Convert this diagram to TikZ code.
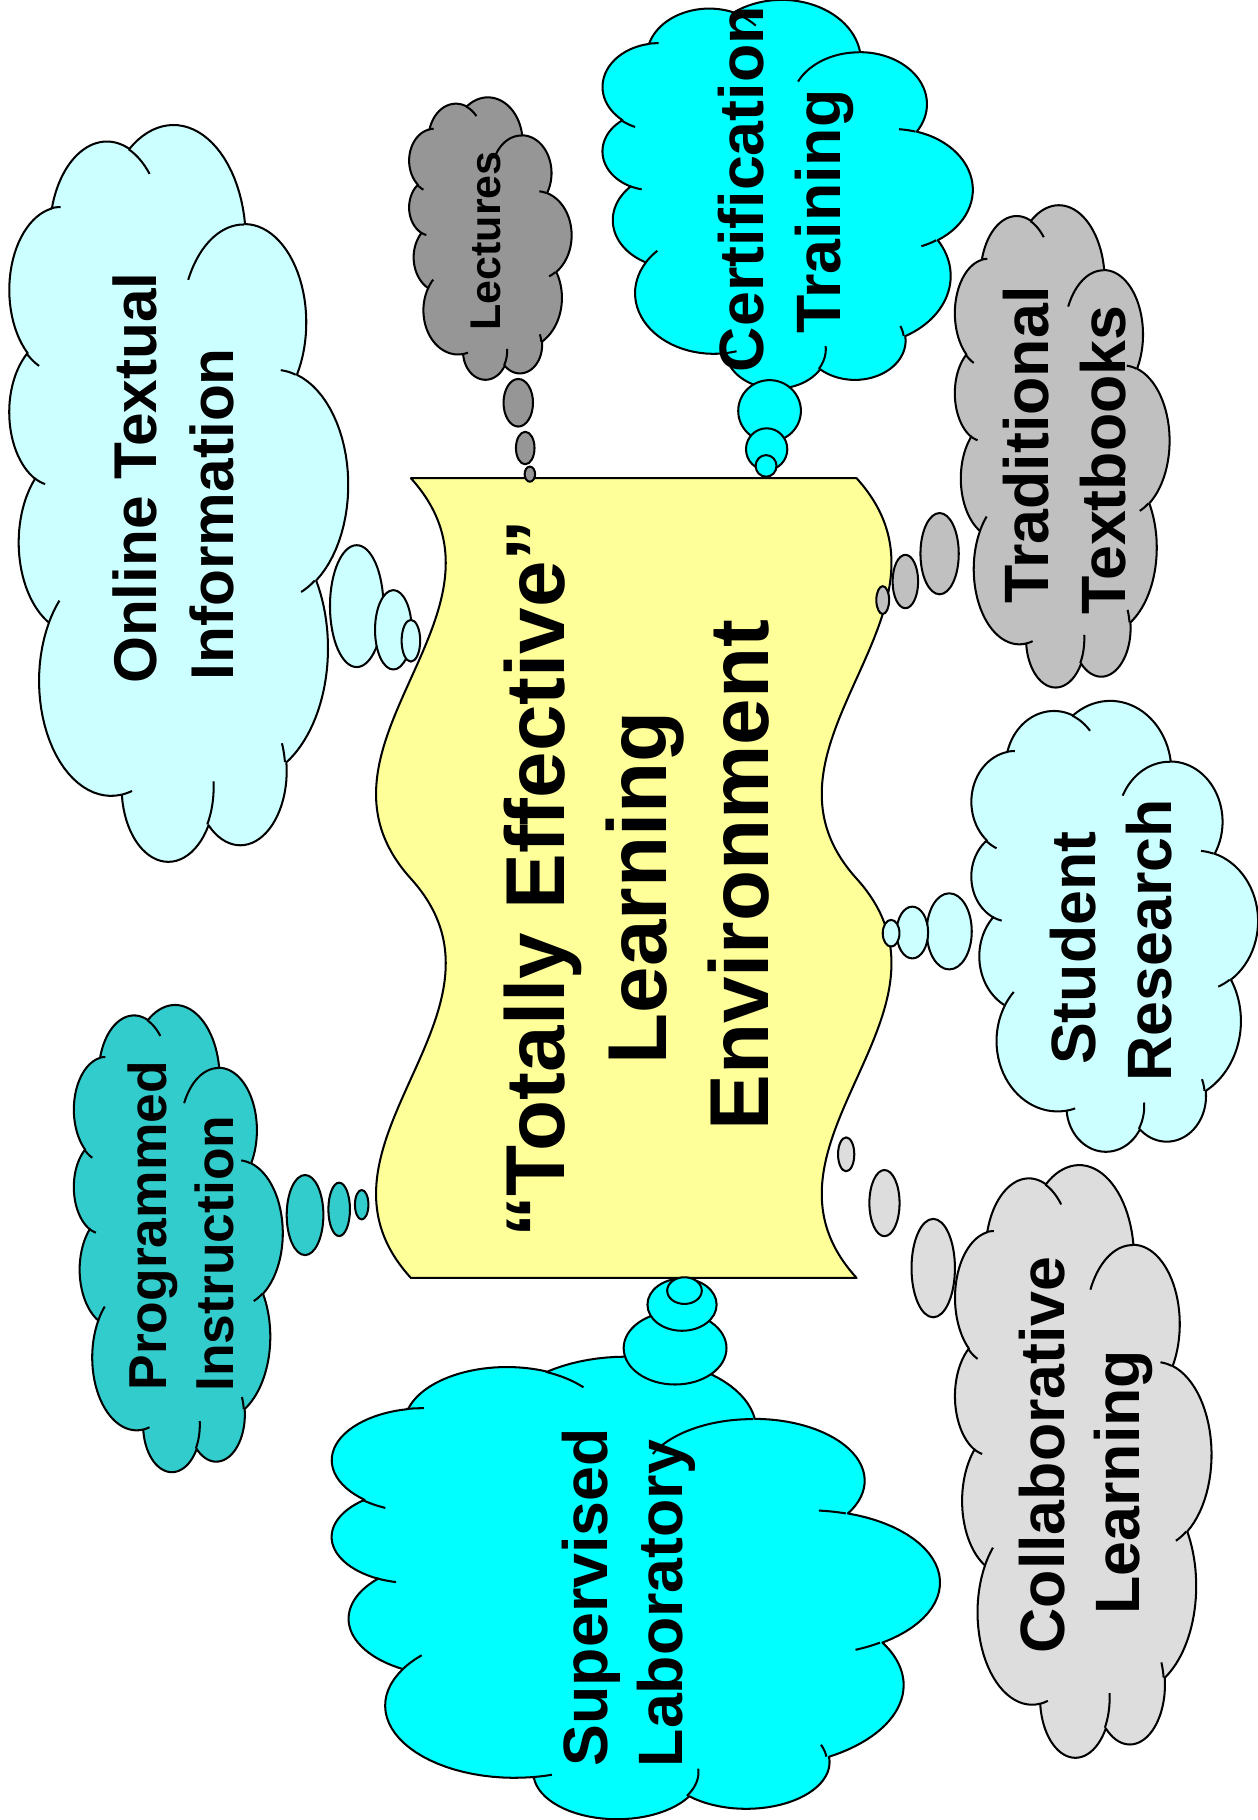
\documentclass[tikz,border=0pt]{standalone}
\usepackage{fontspec}
\setmainfont{Liberation Sans}
\definecolor{bannerYellow}{HTML}{FFFF99}
\definecolor{paleCyan}{HTML}{CCFFFF}
\definecolor{aquaCyan}{HTML}{00FFFF}
\definecolor{darkGrayC}{HTML}{969696}
\definecolor{silverC}{HTML}{C0C0C0}
\definecolor{lightGrayC}{HTML}{DDDDDD}
\definecolor{tealC}{HTML}{33CCCC}

\newcommand\cloudouter{plot[cp,domain=172.254:300.36] ({-25.483+15.632*cos(\t)},{-19.603+21.273*sin(\t)})
 -- plot[cp,domain=-152.018:-45.451] ({-6.679+12.345*cos(\t)},{-30.067+16.822*sin(\t)})
 -- plot[cp,domain=-153.499:-37.326] ({11.023+10.104*cos(\t)},{-35.915+13.762*sin(\t)})
 -- plot[cp,domain=-139.728:-10.211] ({27.638+11.243*cos(\t)},{-34.392+15.266*sin(\t)})
 -- plot[cp,domain=-74.768:23.212] ({35.459+12.345*cos(\t)},{-20.854+16.836*sin(\t)})
 -- plot[cp,domain=-37.524:81.862] ({34.366+15.683*cos(\t)},{-1.221+21.343*sin(\t)})
 -- plot[cp,domain=0.46:121.978] ({23.195+13.391*cos(\t)},{19.76+18.211*sin(\t)})
 -- plot[cp,domain=16.845:146.215] ({1.144+15.63*cos(\t)},{29.026+21.331*sin(\t)})
 -- plot[cp,domain=58.986:150.202] ({-21.054+17.87*cos(\t)},{19.972+24.405*sin(\t)})
 -- plot[cp,domain=83.306:223.104] ({-37.738+10.093*cos(\t)},{18.496+13.699*sin(\t)})
 -- plot[cp,domain=120.357:264.112] ({-40.024+10.058*cos(\t)},{-2.738+13.762*sin(\t)})
 -- cycle}

\newcommand\cloudinner{plot[cp,domain=85.546:120.357] ({-39.918+10.058*cos(\t)},{-3.125+13.762*sin(\t)})
 plot[cp,domain=68.232:83.306] ({-37.706+10.093*cos(\t)},{18.063+13.699*sin(\t)})
 plot[cp,domain=146.215:158.473] ({1.134+15.63*cos(\t)},{28.624+21.331*sin(\t)})
 plot[cp,domain=4.738:16.845] ({1.153+15.63*cos(\t)},{28.68+21.331*sin(\t)})
 plot[cp,domain=-64.027:0.46] ({23.138+13.391*cos(\t)},{19.506+18.211*sin(\t)})
 plot[cp,domain=23.212:49.646] ({35.409+12.345*cos(\t)},{-21.094+16.836*sin(\t)})
 plot[cp,domain=-10.211:0.821] ({27.648+11.243*cos(\t)},{-34.734+15.266*sin(\t)})
 plot[cp,domain=-156.282:-139.728] ({27.603+11.243*cos(\t)},{-34.711+15.266*sin(\t)})
 plot[cp,domain=-167.726:-153.499] ({11.126+10.104*cos(\t)},{-36.149+13.762*sin(\t)})
 plot[cp,domain=-59.64:-45.732] ({-25.495+15.632*cos(\t)},{-19.627+21.273*sin(\t)})
 plot[cp,domain=163.193:172.254] ({-25.483+15.632*cos(\t)},{-19.602+21.273*sin(\t)})}

% #1 cx, #2 cy, #3 width/100 in picture, #4 height/100 in picture, #5 fill
\newcommand\thoughtcloud[5]{%
 \begin{scope}[shift={(#1,#2)}, rotate=90, xscale=#4, yscale=#3]
  \filldraw[outl, fill=#5] \cloudouter;
  \draw[outl] \cloudinner;
 \end{scope}}

\begin{document}
\begin{tikzpicture}[x=1pt,y=-1pt,
  cp/.style={samples=30, variable=\t},
  outl/.style={draw=black, line width=1.75pt, line join=round},
  lbl/.style={inner sep=0pt, rotate=90, anchor=base},
  fbig/.style={font=\bfseries\fontsize{72}{86}\selectfont},
  fmid/.style={font=\bfseries\fontsize{54}{64}\selectfont},
  fon/.style={font=\bfseries\fontsize{52}{62}\selectfont},
  fprog/.style={font=\bfseries\fontsize{46}{55}\selectfont},
  flect/.style={font=\bfseries\fontsize{37}{44}\selectfont}]
\useasboundingbox (0,0) rectangle (1083,1568);
\fill[white] (0,0) rectangle (1083,1568);

% central banner
\filldraw[outl, fill=bannerYellow] (354,412) -- (738,412)
  .. controls (842,527) and (634,642) .. (738,757)
  .. controls (842,872) and (634,987) .. (738,1101)
  -- (354,1101)
  .. controls (250,987) and (458,872) .. (354,757)
  .. controls (250,642) and (458,527) .. (354,412) -- cycle;

% clouds
\thoughtcloud{153}{425}{2.92}{6.34}{paleCyan}
\thoughtcloud{422}{205.5}{1.40}{2.43}{darkGrayC}
\thoughtcloud{677.5}{167.3}{3.19}{3.345}{aquaCyan}
\thoughtcloud{914.5}{384.5}{1.85}{4.15}{silverC}
\thoughtcloud{959.5}{798}{2.47}{3.88}{paleCyan}
\thoughtcloud{932.5}{1259}{2.21}{5.10}{lightGrayC}
\thoughtcloud{546}{1368}{5.24}{3.98}{aquaCyan}
\thoughtcloud{153}{1067}{1.80}{4.02}{tealC}

% thought bubbles
\filldraw[outl, fill=paleCyan] (307.3,522.2) ellipse [x radius=23, y radius=52.5];
\filldraw[outl, fill=paleCyan] (338.9,542.6) ellipse [x radius=15.8, y radius=34.2];
\filldraw[outl, fill=paleCyan] (354,552) ellipse [x radius=8, y radius=18];

\filldraw[outl, fill=darkGrayC] (446.5,347) ellipse [x radius=12.7, y radius=20.5];
\filldraw[outl, fill=darkGrayC] (452.5,386) ellipse [x radius=8, y radius=14];
\filldraw[outl, fill=darkGrayC] (456.5,408.5) ellipse [x radius=4.5, y radius=6.5];

\filldraw[outl, fill=aquaCyan] (663,354) ellipse [x radius=27, y radius=26.5];
\filldraw[outl, fill=aquaCyan] (660.5,387) ellipse [x radius=17.8, y radius=18];
\filldraw[outl, fill=aquaCyan] (660,401.4) ellipse [x radius=9, y radius=9.3];

\filldraw[outl, fill=silverC] (809.5,477) ellipse [x radius=16.5, y radius=35];
\filldraw[outl, fill=silverC] (780,501) ellipse [x radius=11, y radius=23];
\filldraw[outl, fill=silverC] (760.5,517) ellipse [x radius=5.5, y radius=12];

\filldraw[outl, fill=paleCyan] (817.8,802.4) ellipse [x radius=19.4, y radius=32.8];
\filldraw[outl, fill=paleCyan] (786,803.4) ellipse [x radius=13.6, y radius=22.3];
\filldraw[outl, fill=paleCyan] (767.7,804) ellipse [x radius=7.2, y radius=11.5];

\filldraw[outl, fill=lightGrayC] (804,1092.5) ellipse [x radius=18.7, y radius=42.4];
\filldraw[outl, fill=lightGrayC] (762,1036.5) ellipse [x radius=13, y radius=28.5];
\filldraw[outl, fill=lightGrayC] (729,994.5) ellipse [x radius=7, y radius=14.6];

\filldraw[outl, fill=aquaCyan] (581.6,1161.5) ellipse [x radius=44.3, y radius=31.3];
\filldraw[outl, fill=aquaCyan] (587.6,1124) ellipse [x radius=29.8, y radius=22.5];
\filldraw[outl, fill=aquaCyan] (589.7,1111.9) ellipse [x radius=14.9, y radius=11.5];

\filldraw[outl, fill=tealC] (262.8,1046.8) ellipse [x radius=15.8, y radius=34.5];
\filldraw[outl, fill=tealC] (292.2,1041.9) ellipse [x radius=9.3, y radius=23];
\filldraw[outl, fill=tealC] (311.6,1037.9) ellipse [x radius=5.8, y radius=12.7];

% texts
\node[lbl, fbig] (tA) at (486,757) {“Totally Effective”};
\node[lbl, fbig] (tB) at (574.5,765) {Learning};
\node[lbl, fbig] (tC) at (662,754) {Environment};

\node[lbl, fon] (on1) at (135,412) {Online Textual};
\node[lbl, fon] (on2) at (201,443) {Information};

\node[lbl, flect] (lec) at (431,207.5) {Lectures};

\node[lbl, fmid] (ce1) at (657.5,163) {Certification};
\node[lbl, fmid] (ce2) at (723.7,182.3) {Training};

\node[lbl, fmid] (tr1) at (903,383.4) {Traditional};
\node[lbl, fmid] (tr2) at (969.3,396.3) {Textbooks};

\node[lbl, fmid] (st1) at (944,817) {Student};
\node[lbl, fmid] (st2) at (1009,810) {Research};

\node[lbl, fmid] (co1) at (917,1253.5) {Collaborative};
\node[lbl, fmid] (co2) at (982,1277) {Learning};

\node[lbl, fmid] (su1) at (523,1376) {Supervised};
\node[lbl, fmid] (su2) at (588,1381.5) {Laboratory};

\node[lbl, fprog] (pr1) at (143.6,1056) {Programmed};
\node[lbl, fprog] (pr2) at (201,1080) {Instruction};
\end{tikzpicture}
\end{document}
